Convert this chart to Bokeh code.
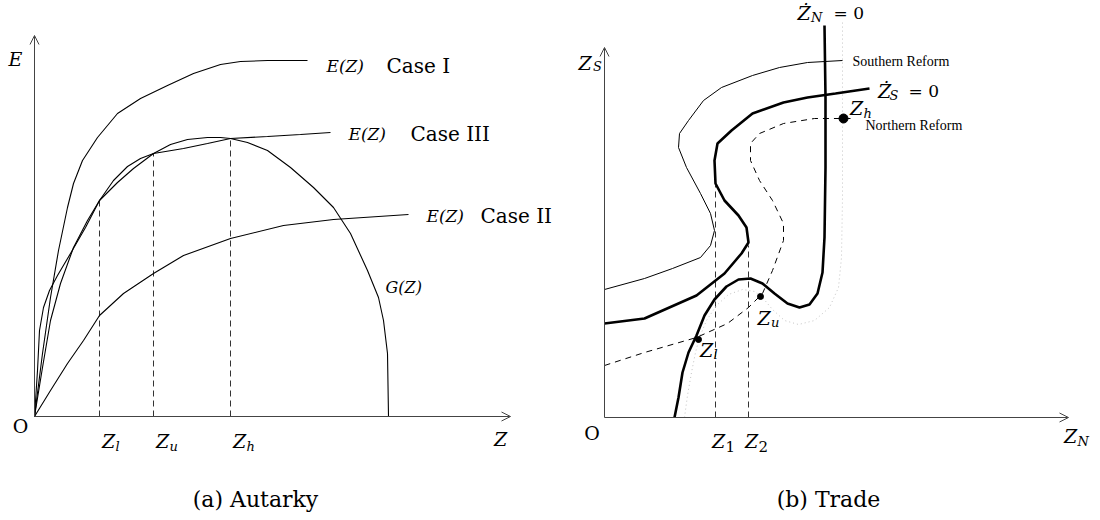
from bokeh.plotting import figure
from bokeh.models import Range1d, Arrow, OpenHead
from bokeh.core.properties import value
from bokeh.embed import file_html
from bokeh.resources import INLINE

# ---------------- (a) Autarky: innovation E(Z) and G(Z) against Z ----------------
CASE1_Z = [0, 8, 16, 24, 33, 39, 48, 63, 83, 106, 133, 159, 186, 206, 233, 273]
CASE1_E = [0, 63, 119, 166, 209, 233, 256, 279, 303, 318, 331, 343, 352, 355, 356, 356]

CASE3_Z = [0, 8, 16, 26, 39, 53, 65, 79, 93, 106, 119, 149, 173, 196, 233, 266, 296]
CASE3_E = [0, 49, 96, 133, 169, 196, 216, 236, 250, 258, 263, 268, 273, 278, 280, 282, 284]

CASE2_Z = [0, 16, 33, 49, 65, 89, 119, 149, 196, 249, 299, 374]
CASE2_E = [0, 26, 53, 76, 101, 123, 143, 161, 178, 191, 197, 202]

G_Z = [0, 3, 5, 9, 15, 23, 36, 51, 65, 83, 99, 119, 136, 153, 173, 186, 196, 213,
       233, 256, 279, 299, 316, 333, 344, 349, 353, 354]
G_E = [0, 46, 86, 109, 126, 141, 163, 189, 216, 234, 248, 263, 272, 277, 279, 279, 278, 274,
       266, 249, 229, 209, 183, 146, 119, 96, 63, 0]

# equilibria where G(Z) meets E(Z) in Case III
EQ_Z = [65, 119, 196]
EQ_E = [216, 263, 278]
EQ_SUB = ["l", "u", "h"]

# ---------------- (b) Trade: loci in the (Z_N, Z_S) plane ----------------
ZNDOT_N = [70, 74, 78, 84, 92, 100, 110, 122, 134, 146, 158, 170, 183, 195, 205, 213,
           218, 220, 221, 221, 220]
ZNDOT_S = [0, 20, 45, 65, 82, 102, 118, 131, 138, 139, 134, 124, 114, 110, 113, 124,
           145, 180, 250, 320, 392]

ZSDOT_N = [0, 40, 92, 120, 137, 144, 142, 134, 120, 111, 110, 113, 127, 148, 179, 203, 231, 265]
ZSDOT_S = [94, 99, 122, 144, 164, 175, 190, 202, 217, 234, 257, 274, 287, 304, 315, 320, 324, 329]

SOUTH_N = [0, 40, 68, 96, 106, 110, 106, 96, 82, 74, 75, 84, 99, 117, 148, 175, 203, 238]
SOUTH_S = [128, 139, 149, 160, 172, 187, 204, 224, 250, 270, 284, 297, 317, 330, 342, 350, 355, 357]

NORTH_N = [0, 40, 92, 123, 144, 158, 168, 179, 179, 168, 155, 146, 146, 155, 179, 210, 238, 246]
NORTH_S = [52, 65, 80, 94, 110, 124, 147, 177, 194, 217, 237, 257, 274, 284, 294, 299, 299, 299]

NREF_N = [80, 83, 87, 91, 95, 102, 112, 124, 138, 150, 158, 168, 180, 194, 210, 225, 234,
          237, 238, 238, 238]
NREF_S = [0, 22, 45, 65, 80, 97, 112, 123, 128, 126, 120, 108, 97, 93, 97, 110, 130,
          160, 220, 300, 395]

# fold points of the Zdot_S = 0 locus
FOLD_N = [111, 144]
FOLD_S = [232, 172]
FOLD_SUB = ["1", "2"]

# marked equilibria after the northern reform
PT_N = [94, 156, 239]
PT_S = [78, 121, 299]
PT_SIZE = [6, 6, 9]

SERIF = "DejaVu Serif"
TIMES = "Liberation Serif"
AX = "#444444"

# One canvas, two coordinate systems: the default ranges belong to the
# autarky diagram, the "trade" ranges to the trade diagram.
p = figure(width=1100, height=520, x_range=Range1d(-34, 1066), y_range=Range1d(-104, 416),
           output_backend="svg", toolbar_location=None, min_border=0,
           x_axis_location=None, y_axis_location=None)
p.extra_x_ranges = {"trade": Range1d(-604, 496)}
p.extra_y_ranges = {"trade": Range1d(-103, 417)}
p.grid.visible = False
p.outline_line_color = None
p.background_fill_color = "white"
p.border_fill_color = "white"

A = dict()
B = dict(x_range_name="trade", y_range_name="trade")


def axis_arrow(x1, y1, rng):
    p.add_layout(Arrow(end=OpenHead(size=9, line_width=1, line_color=AX),
                       x_start=0, y_start=0, x_end=x1, y_end=y1,
                       line_color=AX, line_width=1, **rng))


def label(x, y, s, size, rng, font=SERIF, style="normal", align="left"):
    p.text(x=[x], y=[y], text=[s], text_font=value(font), text_font_size=f"{size}px",
           text_font_style=style, text_align=align, text_baseline="middle",
           text_color="black", **rng)


def sym(x, y, main, sub, rng, size=19, sub_size=13, sub_style="italic", dx=7, dy=6):
    label(x, y, main, size, rng, style="italic", align="center")
    label(x + dx, y - dy, sub, sub_size, rng, style=sub_style)


# ---------------- left panel ----------------
axis_arrow(476, 0, A)
axis_arrow(0, 381, A)

for zx, ey in zip(EQ_Z, EQ_E):
    p.line([zx, zx], [0, ey], line_color="#333333", line_width=1, line_dash="6 4")

for xs, ys in [(CASE1_Z, CASE1_E), (CASE3_Z, CASE3_E), (CASE2_Z, CASE2_E), (G_Z, G_E)]:
    p.line(xs, ys, line_color="black", line_width=1.1)

label(-19, 358, "E", 19, A, style="italic", align="center")
label(-14, -9, "O", 19, A, align="center")
label(466, -22, "Z", 19, A, style="italic", align="center")
for zx, s in zip(EQ_Z, EQ_SUB):
    sym(zx + 9, -24, "Z", s, A)

label(CASE1_Z[-1] + 19, CASE1_E[-1] - 5, "E(Z)", 17, A, style="italic")
label(CASE1_Z[-1] + 79, CASE1_E[-1] - 5, "Case I", 20, A)
label(CASE3_Z[-1] + 18, CASE3_E[-1] - 1, "E(Z)", 17, A, style="italic")
label(CASE3_Z[-1] + 80, CASE3_E[-1] - 1, "Case III", 20, A)
label(CASE2_Z[-1] + 18, CASE2_E[-1] - 1, "E(Z)", 17, A, style="italic")
label(CASE2_Z[-1] + 72, CASE2_E[-1] - 1, "Case II", 20, A)
label(351, 129, "G(Z)", 16, A, style="italic")
label(221, -83, "(a) Autarky", 22, A, align="center")

# ---------------- right panel ----------------
axis_arrow(464, 0, B)
axis_arrow(0, 370, B)

for zx, zy in zip(FOLD_N, FOLD_S):
    p.line([zx, zx], [0, zy], line_color="#333333", line_width=1, line_dash="6 4", **B)

p.line(NREF_N, NREF_S, line_color="#c4c4c4", line_width=1, line_dash="1 3", **B)
p.line(NORTH_N, NORTH_S, line_color="black", line_width=1, line_dash="6 5", **B)
p.line(SOUTH_N, SOUTH_S, line_color="black", line_width=1, **B)
p.line(ZSDOT_N, ZSDOT_S, line_color="black", line_width=2.6, **B)
p.line(ZNDOT_N, ZNDOT_S, line_color="black", line_width=2.6, **B)
p.scatter(PT_N, PT_S, size=PT_SIZE, color="black", **B)

sym(-19.5, 355, "Z", "S", B, dx=8, dy=4)
label(-12.5, -15, "O", 19, B, align="center")
sym(466, -18, "Z", "N", B, dx=7, dy=6)
for zx, s in zip(FOLD_N, FOLD_SUB):
    sym(zx + 3, -23, "Z", s, B, sub_style="normal", sub_size=15)

sym(199.5, 405, "Ż", "N", B, dx=7, dy=5)
label(229, 405, "= 0", 17, B)
sym(280, 327, "Ż", "S", B, dx=5, dy=5)
label(304, 327, "= 0", 17, B)
label(248, 356, "Southern Reform", 14, B, font=TIMES)
label(261, 292, "Northern Reform", 14, B, font=TIMES)
sym(252, 310, "Z", "h", B, dx=7, dy=6)
sym(159.5, 100, "Z", "u", B, dx=7, dy=5)
sym(102, 68, "Z", "l", B, dx=7, dy=5)
label(224, -82, "(b) Trade", 22, B, align="center")

open("out.html", "w").write(file_html(p, INLINE))
